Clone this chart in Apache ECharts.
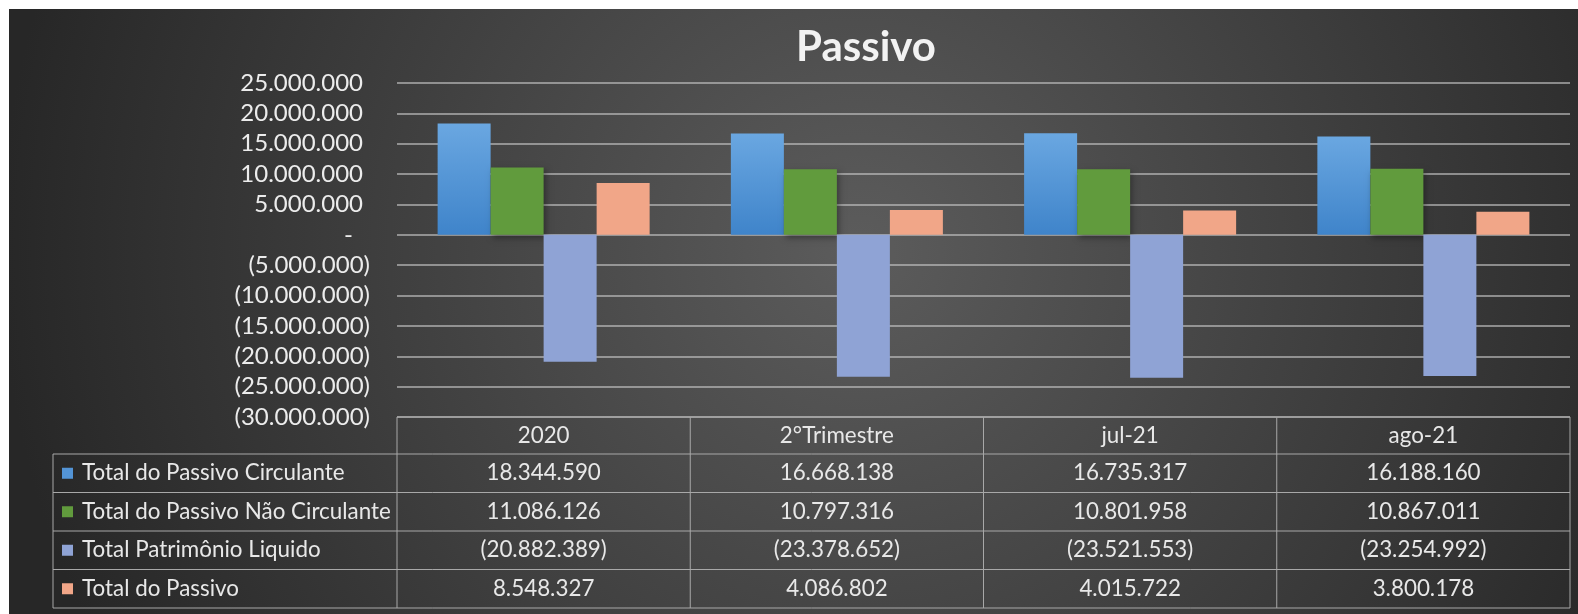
<!DOCTYPE html>
<html><head><meta charset="utf-8">
<script src="https://cdn.jsdelivr.net/npm/echarts@6/dist/echarts.min.js"></script>
<style>
html,body{margin:0;padding:0;background:#fff;}
#chart{position:absolute;left:9px;top:9px;width:1569px;height:605px;
background: radial-gradient(circle 860px at 851px 241px, #5c5c5c 0%, #272727 100%);}
</style></head><body><div id="chart"></div>
<script>
const categories = ['2020', '2°Trimestre', 'jul-21', 'ago-21'];
const seriesNames = ['Total do Passivo Circulante', 'Total do Passivo Não Circulante', 'Total Patrimônio Liquido', 'Total do Passivo'];
const passivoCirculante = [18344590, 16668138, 16735317, 16188160];
const passivoNaoCirculante = [11086126, 10797316, 10801958, 10867011];
const patrimonioLiquido = [-20882389, -23378652, -23521553, -23254992];
const totalPassivo = [8548327, 4086802, 4015722, 3800178];
const yMin = -30000000, yMax = 25000000, yInterval = 5000000;

const seriesData = [passivoCirculante, passivoNaoCirculante, patrimonioLiquido, totalPassivo];
const colors = ['#5394d6', '#619b3d', '#8fa3d5', '#f1a688'];
const FONT = 'Lato, "Open Sans", sans-serif';

function fmt(v) {
  if (v === 0) return '-';
  const s = Math.round(Math.abs(v)).toString().replace(/\B(?=(\d{3})+(?!\d))/g, '.');
  return v < 0 ? '(' + s + ')' : s;
}

const GRID = { left: 388, top: 74, width: 1173, height: 334 };

const chart = echarts.init(document.getElementById('chart'), null, { renderer: 'canvas' });

const series = seriesData.map((d, i) => ({
  name: seriesNames[i],
  type: 'bar',
  data: d,
  barGap: '0%',
  barCategoryGap: '27.7%',
  itemStyle: i === 0 ? {
    color: new echarts.graphic.LinearGradient(0, 0, 0, 1, [
      { offset: 0, color: '#6aa7e1' }, { offset: 1, color: '#3f84ca' }
    ]),
    shadowColor: 'rgba(0,0,0,0.6)', shadowBlur: 8, shadowOffsetX: 2, shadowOffsetY: 4
  } : i === 1 ? {
    color: colors[i], shadowColor: 'rgba(0,0,0,0.35)', shadowBlur: 6, shadowOffsetX: 2, shadowOffsetY: 3
  } : { color: colors[i] }
}));

const option = {
  animation: false,
  backgroundColor: 'transparent',
  title: {
    text: 'Passivo', left: 852, top: 12, textAlign: 'center',
    textStyle: { color: '#f2f2f2', fontFamily: FONT, fontSize: 42, fontWeight: 'bold' }
  },
  grid: Object.assign({ containLabel: false }, GRID),
  xAxis: {
    type: 'category', data: categories,
    axisLine: { show: false }, axisTick: { show: false }, axisLabel: { show: false },
    splitLine: { show: false }
  },
  yAxis: {
    type: 'value', min: yMin, max: yMax, interval: yInterval,
    axisLine: { show: false }, axisTick: { show: false },
    splitLine: { lineStyle: { color: 'rgba(200,200,200,0.6)', width: 2 } },
    axisLabel: {
      margin: 27, color: '#ececec', fontFamily: FONT, fontSize: 24,
      formatter: v => v > 0 ? '{p|' + fmt(v) + '}' : v === 0 ? '{z|-}' : '{n|' + fmt(v) + '}',
      rich: {
        p: { color: '#ececec', fontFamily: FONT, fontSize: 24, padding: [0, 7, 0, 0] },
        z: { color: '#ececec', fontFamily: FONT, fontSize: 24, padding: [0, 17, 0, 0] },
        n: { color: '#ececec', fontFamily: FONT, fontSize: 24 }
      }
    }
  },
  series: series
};
chart.setOption(option);

// Data table (built from the arrays, columns aligned with the category axis)
const band = GRID.width / categories.length;
const centers = categories.map((c, i) => chart.convertToPixel({ xAxisIndex: 0 }, i));
const tableLeft = 44, headerTop = GRID.top + GRID.height, headerH = 37, rowH = 38.5;
const tableRight = GRID.left + GRID.width;
const lineColor = '#a8a8a8';
const TFS = 22.4;
const els = [];
function hline(x1, x2, y) { els.push({ type: 'line', shape: { x1, y1: y, x2, y2: y }, style: { stroke: lineColor, lineWidth: 1 }, silent: true }); }
function vline(x, y1, y2) { els.push({ type: 'line', shape: { x1: x, y1, x2: x, y2 }, style: { stroke: lineColor, lineWidth: 1 }, silent: true }); }
function text(t, x, y, align) {
  els.push({ type: 'text', silent: true, style: { text: t, x, y, fill: '#e8e8e8', font: TFS + 'px ' + FONT,
    textAlign: align, align: align, textVerticalAlign: 'middle', verticalAlign: 'middle' } });
}
const rowsTop = headerTop + headerH;
const tableBottom = rowsTop + rowH * seriesNames.length;
hline(GRID.left, tableRight, headerTop);
categories.forEach((c, i) => text(c, centers[i], headerTop + headerH / 2, 'center'));
for (let r = 0; r <= seriesNames.length; r++) hline(tableLeft, tableRight, rowsTop + r * rowH);
vline(tableLeft, rowsTop, tableBottom);
for (let i = 0; i <= categories.length; i++) {
  const x = i < categories.length ? centers[i] - band / 2 : centers[categories.length - 1] + band / 2;
  vline(x, headerTop, tableBottom);
}
seriesNames.forEach((name, r) => {
  const cy = rowsTop + r * rowH + rowH / 2;
  els.push({ type: 'rect', silent: true, shape: { x: tableLeft + 9, y: cy - 5.5, width: 11, height: 11 }, style: { fill: colors[r] } });
  text(name, tableLeft + 29, cy, 'left');
  seriesData[r].forEach((v, i) => text(fmt(v), centers[i], cy, 'center'));
});
chart.setOption({ graphic: { elements: els } });
</script></body></html>
